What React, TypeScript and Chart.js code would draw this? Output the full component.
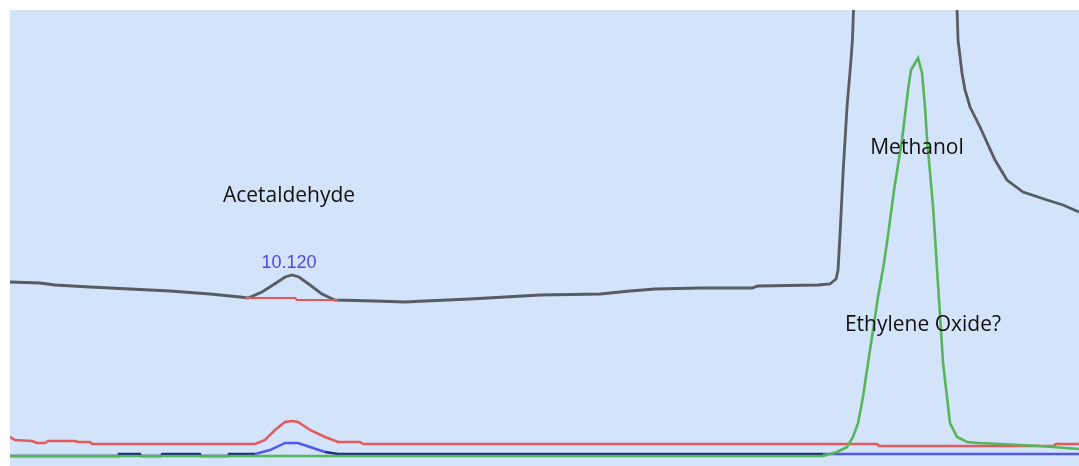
import React, { useEffect, useRef } from "react";
import { Chart, registerables } from "chart.js";

Chart.register(...registerables);

// Retention time (min) and detector signal (mV) for each trace.
type Pt = [number, number];

const TIME_MIN = 7.77;
const TIME_MAX = 16.678;
const SIGNAL_MIN = 0;
const SIGNAL_MAX = 45.6;

// Main (dark) channel: acetaldehyde bump, then the large solvent peak off scale.
const darkTrace: Pt[] = [
  [7.77, 18.4], [8.02, 18.3], [8.145, 18.1], [8.437, 17.9], [8.77, 17.7],
  [9.103, 17.5], [9.437, 17.2], [9.687, 16.9], [9.753, 16.8], [9.87, 17.4],
  [9.987, 18.3], [10.062, 18.9], [10.12, 19.1], [10.178, 18.9], [10.27, 18.1],
  [10.37, 17.2], [10.478, 16.6], [10.812, 16.5], [11.062, 16.4], [11.228, 16.5],
  [11.603, 16.7], [11.895, 16.9], [12.187, 17.1], [12.687, 17.2], [12.937, 17.5],
  [13.145, 17.7], [13.52, 17.8], [13.953, 17.8], [14.003, 18.0], [14.503, 18.1],
  [14.603, 18.2], [14.653, 18.7], [14.67, 19.6], [14.687, 23.3], [14.712, 29.3],
  [14.745, 35.9], [14.778, 40.6], [14.79, 42.6], [14.799, 45.6], [15.228, 61.6],
  [15.662, 45.6], [15.67, 42.6], [15.703, 39.3], [15.728, 37.6], [15.77, 35.9],
  [15.853, 33.9], [15.978, 30.6], [16.078, 28.6], [16.212, 27.4], [16.412, 26.6],
  [16.545, 26.1], [16.678, 25.4],
];

// Integration baseline under the 10.120 peak.
const peakBaseline: Pt[] = [
  [9.728, 16.8], [10.145, 16.8], [10.162, 16.6], [10.503, 16.6],
];

// Second channel (red).
const redTrace: Pt[] = [
  [7.77, 2.9], [7.812, 2.6], [7.953, 2.5], [7.995, 2.3], [8.062, 2.3],
  [8.087, 2.5], [8.312, 2.5], [8.337, 2.4], [8.437, 2.4], [8.453, 2.2],
  [9.812, 2.2], [9.895, 2.6], [9.978, 3.6], [10.062, 4.4], [10.12, 4.5],
  [10.17, 4.4], [10.27, 3.6], [10.395, 2.9], [10.503, 2.4], [10.687, 2.4],
  [10.712, 2.2], [14.995, 2.2], [15.012, 2.0], [16.462, 2.0], [16.487, 2.2],
  [16.678, 2.2],
];

// Third channel (blue).
const blueTrace: Pt[] = [
  [7.77, 1.0], [8.67, 1.0], [8.678, 1.2], [8.853, 1.2], [8.862, 1.0],
  [9.028, 1.0], [9.037, 1.2], [9.353, 1.2], [9.362, 1.0], [9.587, 1.0],
  [9.595, 1.2], [9.812, 1.2], [9.937, 1.6], [10.062, 2.3], [10.17, 2.3],
  [10.27, 1.9], [10.395, 1.4], [10.503, 1.2], [14.55, 1.2], [16.678, 1.2],
];

// Fourth channel (green): the peak near 15.34 min.
const greenTrace: Pt[] = [
  [7.77, 1.0], [14.545, 1.0], [14.603, 1.2], [14.662, 1.4], [14.745, 1.9],
  [14.795, 2.9], [14.837, 4.3], [14.878, 6.9], [14.92, 10.3], [14.962, 13.6],
  [15.003, 16.9], [15.053, 20.3], [15.087, 23.1], [15.137, 27.6], [15.203, 32.6],
  [15.253, 37.6], [15.278, 39.6], [15.337, 40.8], [15.37, 39.3], [15.395, 35.9],
  [15.412, 32.6], [15.437, 29.3], [15.462, 25.9], [15.477, 23.1], [15.492, 20.3],
  [15.51, 16.9], [15.528, 13.6], [15.545, 10.3], [15.578, 6.9], [15.603, 4.3],
  [15.662, 2.9], [15.745, 2.4], [15.853, 2.3], [16.02, 2.2], [16.353, 2.0],
  [16.678, 1.7],
];

// Retention time printed above the integrated peak.
const peakRetention = 10.12;
const peakApex = 19.1;

// Compound annotations: text, time, signal.
const noteText = ["Acetaldehyde", "Methanol", "Ethylene Oxide?"];
const noteTime = [10.095, 15.328, 15.378];
const noteSignal = [27.0, 31.8, 14.1];

const toXY = (pts: Pt[]) => pts.map(([x, y]) => ({ x, y }));

const PLOT_BG = "#d3e3f9";
const NAVY = "#1e2c86";
const BRIGHT_BLUE = "#5058ee";

const backgroundPlugin = {
  id: "plotBackground",
  beforeDraw(chart: Chart) {
    const { ctx, chartArea, width, height } = chart;
    ctx.save();
    ctx.fillStyle = "#ffffff";
    ctx.fillRect(0, 0, width, height);
    ctx.fillStyle = PLOT_BG;
    ctx.fillRect(
      chartArea.left,
      chartArea.top,
      chartArea.right - chartArea.left,
      chartArea.bottom - chartArea.top
    );
    ctx.restore();
  },
};

const labelPlugin = {
  id: "peakLabels",
  afterDatasetsDraw(chart: Chart) {
    const { ctx } = chart;
    const xs = chart.scales.x;
    const ys = chart.scales.y;
    ctx.save();
    ctx.textAlign = "center";
    ctx.textBaseline = "middle";
    ctx.fillStyle = "#111111";
    ctx.font = '21px "Open Sans", sans-serif';
    noteText.forEach((t, i) => {
      ctx.fillText(t, xs.getPixelForValue(noteTime[i]), ys.getPixelForValue(noteSignal[i]));
    });
    ctx.fillStyle = "#4a4aea";
    ctx.font = '18px "Liberation Sans", Arial, sans-serif';
    ctx.textBaseline = "bottom";
    ctx.fillText(
      peakRetention.toFixed(3),
      xs.getPixelForValue(peakRetention) - 3,
      ys.getPixelForValue(peakApex) - 3
    );
    ctx.restore();
  },
};

export default function App() {
  const canvasRef = useRef<HTMLCanvasElement | null>(null);

  useEffect(() => {
    document.body.style.margin = "0";
    const canvas = canvasRef.current;
    if (!canvas) return;

    const line = (data: Pt[], color: string, width: number, extra: any = {}) => ({
      data: toXY(data),
      borderColor: color,
      borderWidth: width,
      pointRadius: 0,
      tension: 0,
      fill: false,
      clip: 0,
      ...extra,
    });

    const chart = new Chart(canvas, {
      type: "line",
      data: {
        datasets: [
          line(peakBaseline, "#e4585a", 2.2),
          line(darkTrace, "#575c63", 2.8),
          line(greenTrace, "#58b45a", 2.6),
          line(redTrace, "#e45a5c", 2.5),
          line(blueTrace, NAVY, 2.4, {
            segment: {
              borderColor: (c: any) => {
                const x0 = c.p0.parsed.x;
                const x1 = c.p1.parsed.x;
                if (x0 >= 14.5) return BRIGHT_BLUE;
                if (x0 >= 9.8 && x1 <= 10.41) return BRIGHT_BLUE;
                return NAVY;
              },
            },
          }),
        ],
      },
      options: {
        animation: false,
        responsive: false,
        devicePixelRatio: 1,
        parsing: false as any,
        layout: { padding: { left: 10, top: 10, right: 0, bottom: 0 } },
        plugins: {
          legend: { display: false },
          tooltip: { enabled: false },
        },
        scales: {
          x: { type: "linear", min: TIME_MIN, max: TIME_MAX, display: false },
          y: { type: "linear", min: SIGNAL_MIN, max: SIGNAL_MAX, display: false },
        },
      },
      plugins: [backgroundPlugin, labelPlugin],
    });

    return () => chart.destroy();
  }, []);

  return (
    <div style={{ width: 1079, height: 466 }}>
      <canvas ref={canvasRef} width={1079} height={466} style={{ display: "block" }} />
    </div>
  );
}
